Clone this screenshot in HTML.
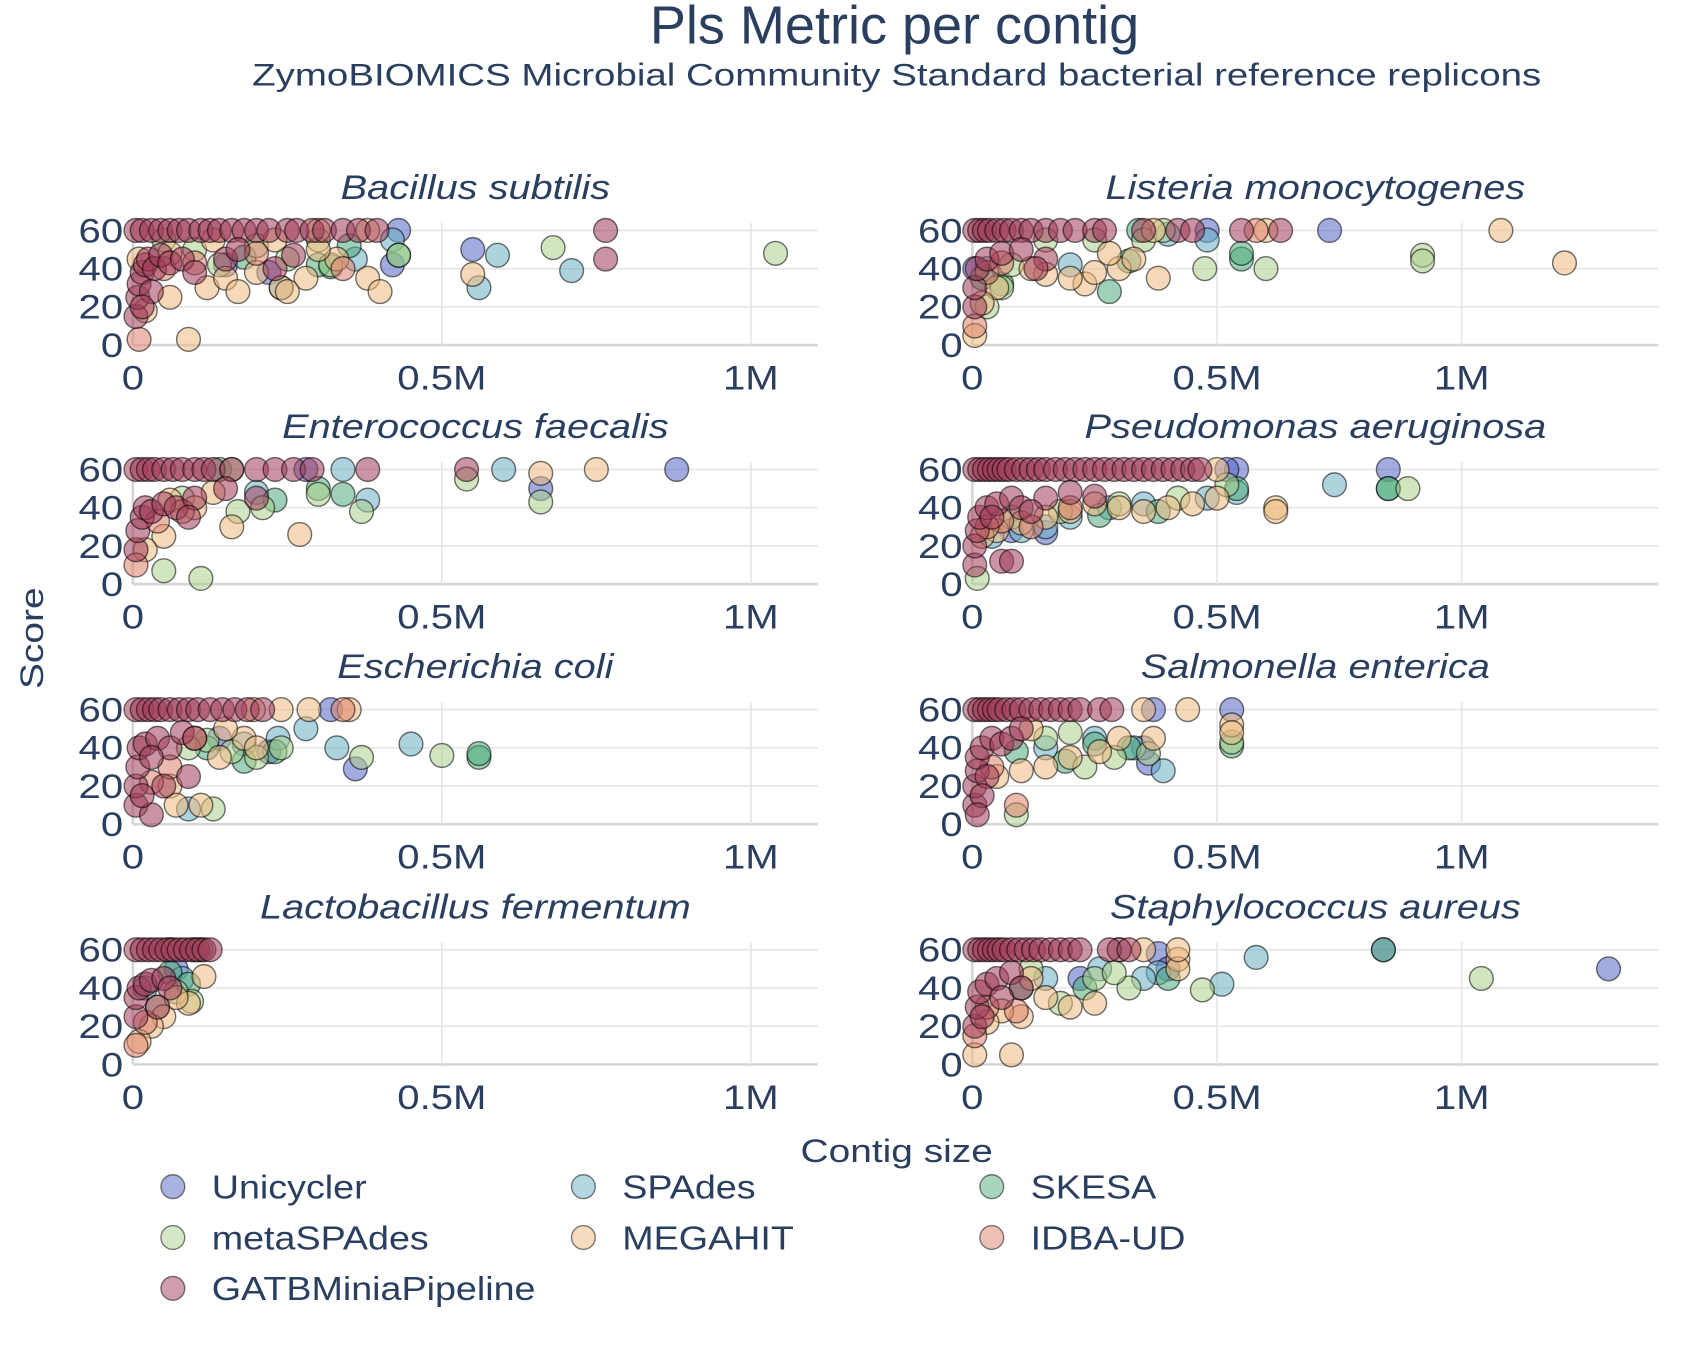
<!DOCTYPE html>
<html><head><meta charset="utf-8"><style>
html,body{margin:0;padding:0;background:#fff;}
svg{display:block;font-family:"Liberation Sans",sans-serif;}
</style></head><body>
<svg id="chart" width="1694" height="1350" viewBox="0 0 1568 1248" preserveAspectRatio="none" xmlns="http://www.w3.org/2000/svg">
<text class="st" data-stretch="1.0" x="828" y="40" text-anchor="middle" font-size="50" fill="#2a3f5f">Pls Metric per contig</text>
<text class="st" data-stretch="1.228" x="830" y="79" text-anchor="middle" font-size="29" fill="#2a3f5f">ZymoBIOMICS Microbial Community Standard bacterial reference replicons</text>
<text class="st" data-stretch="1.2" transform="translate(40,590) rotate(-90)" text-anchor="middle" font-size="30" fill="#2a3f5f">Score</text>
<text class="st" data-stretch="1.2" x="830" y="1074" text-anchor="middle" font-size="30" fill="#2a3f5f">Contig size</text>
<g id="panels"></g>
<g id="legend"></g>
</svg>
<script>
const assemblers = ["Unicycler","SPAdes","SKESA","metaSPAdes","MEGAHIT","IDBA-UD","GATBMiniaPipeline"];
const colors = ["#5566c4","#6aaec4","#4fab7c","#acd08c","#ecba80","#dc826c","#a03c5a"];
const yTicks = [0,20,40,60];
const xTicksKb = [0,500,1000];
const xTickLabels = ["0","0.5M","1M"];
const panelTitles = ["Bacillus subtilis","Listeria monocytogenes","Enterococcus faecalis","Pseudomonas aeruginosa","Escherichia coli","Salmonella enterica","Lactobacillus fermentum","Staphylococcus aureus"];

// data: [contig size (kb), score] per assembler in order of `assemblers`
const bacillus = [
 [[550,50],[430,60],[220,38],[150,42],[420,42]],
 [[560,30],[590,47],[710,39],[240,30],[360,45],[420,55]],
 [[430,47],[320,41],[300,42],[350,52],[180,46]],
 [[1040,48],[680,51],[430,47],[300,55],[200,52],[100,50],[50,55],[140,42],[250,45],[320,42]],
 [[90,3],[20,18],[60,25],[120,30],[150,35],[200,38],[240,30],[280,35],[330,45],[380,35],[400,28],[550,37],[130,55],[230,55],[300,50],[60,48],[10,45],[170,28],[250,28],[380,60],[300,60]],
 [[10,3],[340,40],[200,48],[100,43],[50,40]],
 [[5,60],[15,60],[30,60],[45,60],[60,60],[75,60],[90,60],[110,60],[125,60],[140,60],[160,60],[180,60],[200,60],[220,60],[250,60],[265,60],[290,60],[310,60],[340,60],[365,60],[395,60],[765,60],[765,45],[5,15],[8,25],[10,32],[15,38],[20,42],[25,45],[35,40],[45,47],[60,43],[80,45],[100,38],[150,45],[170,50],[230,40],[260,47],[30,28],[15,20]]
];
const listeria = [
 [[730,60],[480,60],[5,40]],
 [[480,55],[400,58],[200,42],[30,40]],
 [[550,45],[550,48],[280,28],[320,44],[60,32],[20,35],[340,60]],
 [[920,47],[920,44],[600,40],[475,40],[350,55],[250,55],[150,55],[80,42],[30,20],[60,30],[390,60]],
 [[1080,60],[1210,43],[380,35],[300,40],[230,32],[200,35],[150,37],[120,40],[50,30],[20,22],[5,5],[330,45],[280,48],[250,38],[370,60],[600,60]],
 [[580,60],[30,38],[60,43],[5,10]],
 [[5,60],[15,60],[25,60],[35,60],[50,60],[65,60],[80,60],[100,60],[120,60],[150,60],[180,60],[210,60],[250,60],[270,60],[350,60],[420,60],[450,60],[550,60],[630,60],[5,20],[5,30],[10,40],[30,45],[60,48],[100,50],[150,45],[130,40]]
];
const enterococcus = [
 [[880,60],[280,60],[660,50]],
 [[600,60],[340,60],[380,44],[200,48]],
 [[340,47],[300,50],[230,44],[140,60]],
 [[660,43],[540,55],[370,38],[300,47],[210,40],[110,3],[50,7],[170,38],[80,45],[160,60]],
 [[750,60],[660,58],[270,26],[160,30],[50,25],[20,18],[100,40],[60,44],[130,48]],
 [[5,10],[40,33],[80,38]],
 [[5,60],[15,60],[25,60],[35,60],[50,60],[65,60],[80,60],[100,60],[115,60],[130,60],[160,60],[200,60],[230,60],[260,60],[290,60],[380,60],[540,60],[5,18],[8,28],[15,35],[20,40],[30,38],[50,42],[70,40],[100,45],[150,50],[200,45],[90,35]]
];
const pseudomonas = [
 [[850,60],[540,60],[520,60],[150,27],[80,28]],
 [[740,52],[540,48],[480,45],[350,42],[280,40],[200,35],[150,30],[100,28],[40,25]],
 [[850,50],[850,50],[540,50],[380,38],[260,36]],
 [[890,50],[520,52],[420,45],[300,42],[180,38],[80,35],[10,3]],
 [[620,40],[620,38],[500,45],[450,42],[400,40],[350,38],[300,40],[250,42],[200,38],[150,35],[100,32],[50,28],[20,25],[500,60]],
 [[120,30],[60,33],[30,30],[200,40]],
 [[5,60],[15,60],[25,60],[35,60],[45,60],[55,60],[65,60],[75,60],[90,60],[105,60],[120,60],[135,60],[150,60],[170,60],[190,60],[210,60],[230,60],[250,60],[270,60],[290,60],[310,60],[330,60],[350,60],[370,60],[390,60],[410,60],[430,60],[450,60],[465,60],[5,10],[5,20],[10,28],[15,35],[30,40],[50,42],[80,45],[100,40],[150,45],[200,48],[250,46],[60,12],[80,12],[40,35],[120,38]]
];
const ecoli = [
 [[360,29],[320,60],[220,38],[140,45]],
 [[450,42],[330,40],[280,50],[90,8],[180,42],[235,45]],
 [[560,35],[560,37],[180,33],[230,38],[120,40]],
 [[500,36],[370,35],[240,40],[200,35],[130,8],[160,38],[120,44],[90,40]],
 [[285,60],[240,60],[195,60],[180,45],[140,35],[110,10],[60,20],[100,45],[200,40],[150,50],[350,60],[70,10]],
 [[340,60],[60,30],[30,22]],
 [[5,60],[15,60],[25,60],[35,60],[45,60],[60,60],[75,60],[90,60],[105,60],[125,60],[145,60],[165,60],[185,60],[210,60],[5,10],[5,20],[8,30],[10,40],[20,42],[40,45],[60,40],[80,48],[100,45],[30,35],[50,20],[90,25],[30,5],[15,15]]
];
const salmonella = [
 [[530,60],[360,32],[370,60],[350,40]],
 [[390,28],[330,40],[250,45],[150,40]],
 [[530,41],[320,40],[250,42],[190,33],[90,38]],
 [[530,43],[360,37],[290,35],[230,30],[150,45],[90,5],[200,48]],
 [[440,60],[350,60],[530,52],[530,48],[370,45],[300,45],[260,38],[200,35],[150,30],[100,28],[50,25],[120,50]],
 [[90,10],[40,30]],
 [[5,60],[15,60],[25,60],[35,60],[45,60],[55,60],[70,60],[85,60],[100,60],[120,60],[140,60],[160,60],[180,60],[200,60],[220,60],[260,60],[285,60],[5,10],[5,20],[10,28],[10,35],[20,40],[40,45],[60,42],[80,45],[100,50],[30,25],[20,15],[10,5]]
];
const lactobacillus = [
 [[70,50]],
 [[80,45],[20,40]],
 [[60,48],[90,42]],
 [[95,33],[70,38],[40,30],[110,60]],
 [[115,46],[90,32],[50,25],[30,20],[10,12],[70,35],[60,60],[100,60]],
 [[5,10],[20,22]],
 [[5,60],[15,60],[25,60],[35,60],[45,60],[55,60],[65,60],[75,60],[85,60],[95,60],[105,60],[115,60],[125,60],[5,25],[5,35],[10,40],[20,42],[30,44],[50,45],[60,40],[40,30]]
];
const staphylococcus = [
 [[1300,50],[840,60],[300,60],[380,58],[400,50],[220,45]],
 [[580,56],[510,42],[380,48],[350,45],[260,50],[150,45]],
 [[840,60],[400,45],[230,40],[100,40]],
 [[1040,45],[470,39],[320,40],[250,45],[180,32],[120,50],[290,48]],
 [[420,55],[420,50],[350,60],[80,5],[5,5],[200,30],[250,32],[150,35],[100,25],[60,28],[30,22],[420,60],[120,45]],
 [[5,15],[30,30],[90,28],[300,60]],
 [[5,60],[15,60],[25,60],[35,60],[45,60],[55,60],[65,60],[80,60],[95,60],[110,60],[125,60],[140,60],[160,60],[180,60],[200,60],[220,60],[280,60],[320,60],[5,20],[10,30],[15,38],[30,42],[50,45],[80,48],[100,40],[60,35],[20,25]]
];
const panelData = [bacillus,listeria,enterococcus,pseudomonas,ecoli,salmonella,lactobacillus,staphylococcus];

const NS="http://www.w3.org/2000/svg";
function mk(tag,attrs,parent){const e=document.createElementNS(NS,tag);for(const k in attrs)e.setAttribute(k,attrs[k]);parent.appendChild(e);return e;}
const cols=[{x0:123,x1:757,k:0.572},{x0:900,x1:1535,k:0.453}];
const rowBase=[319,540,762,984];
const ySpan=106/60;
const panelsG=document.getElementById('panels');
panelTitles.forEach((title,i)=>{
  const c=cols[i%2], yb=rowBase[Math.floor(i/2)];
  const xs=kb=>c.x0+kb*c.k, ys=v=>yb-v*ySpan;
  const g=mk('g',{},panelsG);
  
  
  const t=mk('text',{class:'st','data-stretch':1.15,x:(c.x0+c.x1)/2,y:yb-135,'text-anchor':'middle','font-size':32,'font-style':'italic',fill:'#2a3f5f'},g);
  t.textContent=title;
  
  
  yTicks.forEach(v=>{
    const l=mk('line',{x1:c.x0,x2:c.x1,y1:ys(v),y2:ys(v),stroke:v===0?'#d6d6d6':'#e6e6e6','stroke-width':v===0?2.5:1.5},g);
    
    
    const tl=mk('text',{class:'st','data-stretch':1.16,x:c.x0-9,y:ys(v)+11,'text-anchor':'end','font-size':32,fill:'#2a3f5f'},g);
    tl.textContent=v;
    
    
  });
  xTicksKb.forEach((v,j)=>{
    const l=mk('line',{x1:xs(v),x2:xs(v),y1:ys(64),y2:yb,stroke:v===0?'#d6d6d6':'#e6e6e6','stroke-width':v===0?2.5:1.5},g);
    
    
    const tl=mk('text',{class:'st','data-stretch':1.16,x:xs(v),y:yb+41,'text-anchor':'middle','font-size':32,fill:'#2a3f5f'},g);
    tl.textContent=xTickLabels[j];
    
    
  });
  panelData[i].forEach((pts,a)=>{
    pts.forEach(p=>{
      const m=mk('circle',{cx:xs(p[0]),cy:ys(p[1]),r:11,fill:colors[a],'fill-opacity':0.55,stroke:'#000','stroke-opacity':0.55,'stroke-width':1.3},g);
      
      
    });
  });
});
const leg=document.getElementById('legend');
const legX=[160,540,918], legY=[1097,1144,1191];
assemblers.forEach((a,i)=>{
  const x=legX[i%3], y=legY[Math.floor(i/3)];
  const g=mk('g',{},leg);
  
  
  mk('circle',{cx:x,cy:y,r:11,fill:colors[i],'fill-opacity':0.5,stroke:'#000','stroke-opacity':0.5,'stroke-width':1.3},g);
  const t=mk('text',{class:'st','data-stretch':1.125,x:x+36,y:y+11,'font-size':31,fill:'#2a3f5f'},g);
  t.textContent=a;
});
document.querySelectorAll('text.st').forEach(t=>{
  const f=parseFloat(t.getAttribute('data-stretch'));
  const w=t.getComputedTextLength();
  if(w>0){t.setAttribute('textLength',(w*f).toFixed(1));t.setAttribute('lengthAdjust','spacingAndGlyphs');}
});
</script>
</body></html>
